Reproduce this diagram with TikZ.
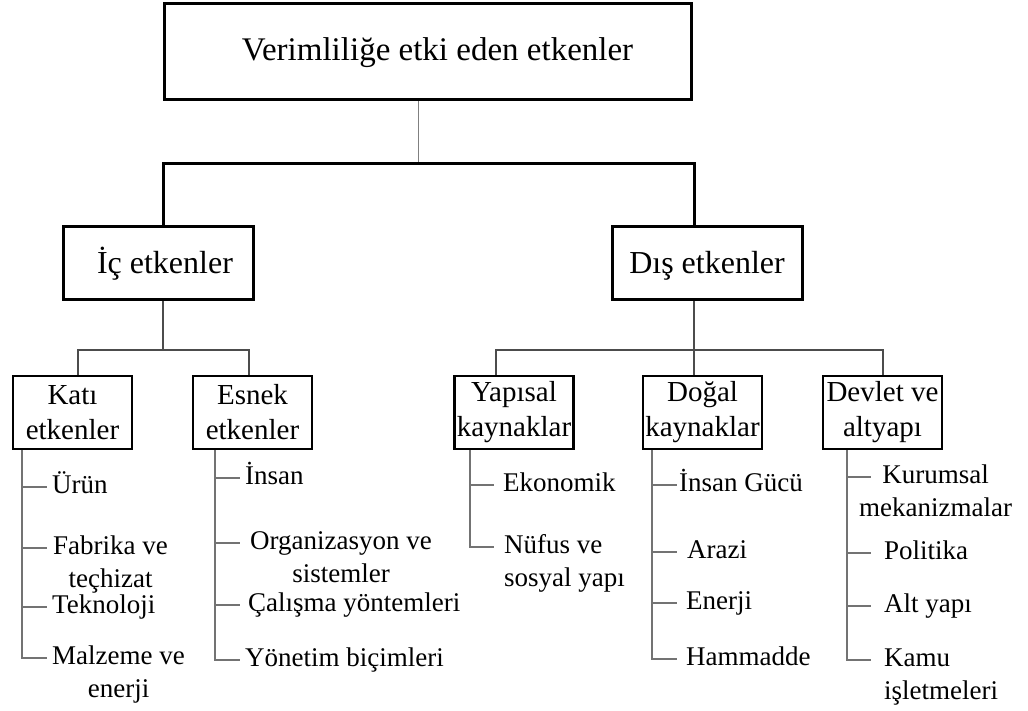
\documentclass[tikz,border=0pt]{standalone}
\usepackage{fontspec}
\setmainfont{Liberation Serif}

\begin{document}
\fontsize{27}{33}\selectfont
\begin{tikzpicture}[x=1pt, y=-1pt,
	headbox/.style={draw, line width=3pt, minimum width=527pt, minimum height=96pt, inner sep=0pt, text height=22pt, text depth=4pt, font=\fontsize{33}{38}\selectfont},
	mainbox/.style={draw, line width=3pt, minimum width=190pt, minimum height=73pt, inner sep=0pt, text height=22pt, text depth=2pt, font=\fontsize{32}{37}\selectfont},
	subbox/.style={draw, line width=2.5pt, minimum width=119pt, minimum height=73pt, inner sep=0pt, align=center, font=\fontsize{29}{35}\selectfont},
	leaftext/.style={anchor=mid west, inner sep=0pt, font=\fontsize{27}{33}\selectfont},
	trunk/.style={line width=3pt},
	bus/.style={line width=1.3pt, black!70},
	stemline/.style={line width=1pt, black!50},
	leaf/.style={line width=1.5pt, black!55}]

	\useasboundingbox (0,0) rectangle (1028,711);

	\node[headbox] (top) at (427.5,52) {\hspace*{20pt}Verimliliğe etki eden etkenler};
	\node[mainbox] (ic) at (158,263.5) {\hspace*{14pt}İç etkenler};
	\node[mainbox] (dis) at (707,263.5) {Dış etkenler};

	\node[subbox] (kati) at (72.5,412.5) {Katı\\etkenler};
	\node[subbox] (esnek) at (252.5,412.5) {Esnek\\etkenler};
	\node[subbox] (yapisal) at (514,412.5) {Yapısal\\kaynaklar};
	\node[subbox] (dogal) at (702.5,412.5) {Doğal\\kaynaklar};
	\node[subbox] (devlet) at (882.5,412.5) {Devlet ve\\altyapı};

	\node[leaftext] (k1) at (52,487) {Ürün};
	\node[leaftext] (k2) at (53,548) {\begin{tabular}[t]{@{}c@{}}Fabrika ve\\teçhizat\end{tabular}};
	\node[leaftext] (k3) at (52,607) {Teknoloji};
	\node[leaftext] (k4) at (52,658) {\begin{tabular}[t]{@{}c@{}}Malzeme ve\\enerji\end{tabular}};

	\node[leaftext] (e1) at (245,478) {İnsan};
	\node[leaftext] (e2) at (250,543) {\begin{tabular}[t]{@{}c@{}}Organizasyon ve\\sistemler\end{tabular}};
	\node[leaftext] (e3) at (248,605) {Çalışma yöntemleri};
	\node[leaftext] (e4) at (245,660) {Yönetim biçimleri};

	\node[leaftext] (y1) at (503,485) {Ekonomik};
	\node[leaftext] (y2) at (504,547) {\begin{tabular}[t]{@{}l@{}}Nüfus ve\\sosyal yapı\end{tabular}};

	\node[leaftext] (d1) at (679,485) {İnsan Gücü};
	\node[leaftext] (d2) at (687,552) {Arazi};
	\node[leaftext] (d3) at (686,603) {Enerji};
	\node[leaftext] (d4) at (686,659) {Hammadde};

	\node[leaftext] (v1) at (859,477) {\begin{tabular}[t]{@{}c@{}}Kurumsal\\mekanizmalar\end{tabular}};
	\node[leaftext] (v2) at (884,553) {Politika};
	\node[leaftext] (v3) at (884,606) {Alt yapı};
	\node[leaftext] (v4) at (884,660) {\begin{tabular}[t]{@{}l@{}}Kamu\\işletmeleri\end{tabular}};

	\coordinate (bar) at (418,164);
	\coordinate (icbar) at (163,350);
	\coordinate (disbar) at (694,350);

	\draw[stemline] (top.south -| bar) -- (bar);
	\draw[trunk] ([xshift=5pt]ic.north) |- (bar) -| ([xshift=-13pt]dis.north);

	\draw[bus] ([xshift=5pt]ic.south) -- (icbar);
	\draw[bus] ([xshift=5.5pt]kati.north) |- (icbar) -| ([xshift=-3.5pt]esnek.north);
	\draw[bus] ([xshift=-13pt]dis.south) -- ([xshift=-8.5pt]dogal.north);
	\draw[bus] ([xshift=-18pt]yapisal.north) |- (disbar) -| ([xshift=0.5pt]devlet.north);

	\coordinate (ks) at ([xshift=10pt]kati.south west);
	\coordinate (es) at ([xshift=23pt]esnek.south west);
	\coordinate (ys) at ([xshift=16.5pt]yapisal.south west);
	\coordinate (ds) at ([xshift=10pt]dogal.south west);
	\coordinate (vs) at ([xshift=25pt]devlet.south west);

	\draw[leaf] (ks) -- (ks |- k4.mid west) -- ++(25,0) (ks |- k1.mid west) -- ++(25,0) (ks |- k2.mid west) -- ++(25,0) (ks |- k3.mid west) -- ++(25,0);
	\draw[leaf] (es) -- (es |- e4.mid west) -- ++(25,0) (es |- e1.mid west) -- ++(25,0) (es |- e2.mid west) -- ++(25,0) (es |- e3.mid west) -- ++(25,0);
	\draw[leaf] (ys) -- (ys |- y2.mid west) -- ++(24,0) (ys |- y1.mid west) -- ++(24,0);
	\draw[leaf] (ds) -- (ds |- d4.mid west) -- ++(25,0) (ds |- d1.mid west) -- ++(25,0) (ds |- d2.mid west) -- ++(25,0) (ds |- d3.mid west) -- ++(25,0);
	\draw[leaf] (vs) -- (vs |- v4.mid west) -- ++(24,0) (vs |- v1.mid west) -- ++(24,0) (vs |- v2.mid west) -- ++(24,0) (vs |- v3.mid west) -- ++(24,0);
\end{tikzpicture}
\end{document}
